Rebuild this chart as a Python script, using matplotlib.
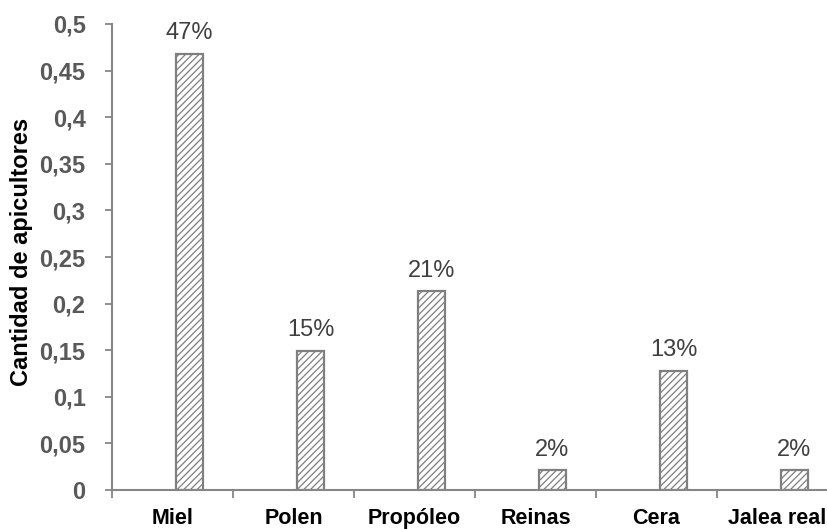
import matplotlib
matplotlib.use('Agg')
import matplotlib.pyplot as plt
import numpy as np

plt.rcParams['font.family'] = ['Liberation Sans', 'DejaVu Sans']
plt.rcParams['hatch.color'] = '#5a5a5a'
plt.rcParams['hatch.linewidth'] = 0.9

productos = ['Miel', 'Polen', 'Propóleo', 'Reinas', 'Cera', 'Jalea real']
proporcion = [0.468, 0.149, 0.213, 0.021, 0.128, 0.021]
yticks = [0, 0.05, 0.1, 0.15, 0.2, 0.25, 0.3, 0.35, 0.4, 0.45, 0.5]
ytick_labels = ['0', '0,05', '0,1', '0,15', '0,2', '0,25', '0,3', '0,35', '0,4', '0,45', '0,5']

W, H = 828, 530
fig = plt.figure(figsize=(W / 100, H / 100), dpi=100)
# axis runs past the right edge, like the original sheet export
ax = fig.add_axes([112 / W, 40 / H, (838 - 112) / W, 466 / H])

x = np.arange(len(productos))
bars = ax.bar(x + 0.14, proporcion, width=0.23, color='white',
              edgecolor='#7f7f7f', linewidth=1.6, hatch='/////')

for xi, v in zip(x, proporcion):
    ax.annotate(f'{v * 100:.0f}%', (xi + 0.14, v), xytext=(0, 7),
                textcoords='offset points', ha='center', va='bottom',
                fontsize=17, color='#404040')

ax.set_xlim(-0.5, len(productos) - 0.5)
ax.set_ylim(0, 0.5)
ax.set_yticks(yticks)
ax.set_yticklabels(ytick_labels)
ax.set_xticks(np.arange(len(productos) + 1) - 0.5, minor=False)
ax.set_xticklabels([])
ax.set_xticks(x, minor=True)
ax.set_xticklabels(productos, minor=True)

for s in ['top', 'right']:
    ax.spines[s].set_visible(False)
for s in ['left', 'bottom']:
    ax.spines[s].set_color('#868686')
    ax.spines[s].set_linewidth(1.5)

ax.tick_params(axis='y', direction='out', length=5, width=1.3, color='#868686',
               labelsize=17, labelcolor='#595959', pad=14)
ax.tick_params(axis='x', which='major', direction='out', length=6, width=1.3,
               color='#868686')
ax.tick_params(axis='x', which='minor', length=0, labelsize=15.5,
               labelcolor='black', pad=13)
for lbl in ax.get_yticklabels():
    lbl.set_fontweight('bold')
for lbl in ax.get_xticklabels(minor=True):
    lbl.set_fontweight('bold')

fig.text(22 / W, 1 - 252 / H, 'Cantidad de apicultores', rotation=90,
         ha='center', va='center', fontsize=17, fontweight='bold')

fig.savefig('out.png', dpi=100)
